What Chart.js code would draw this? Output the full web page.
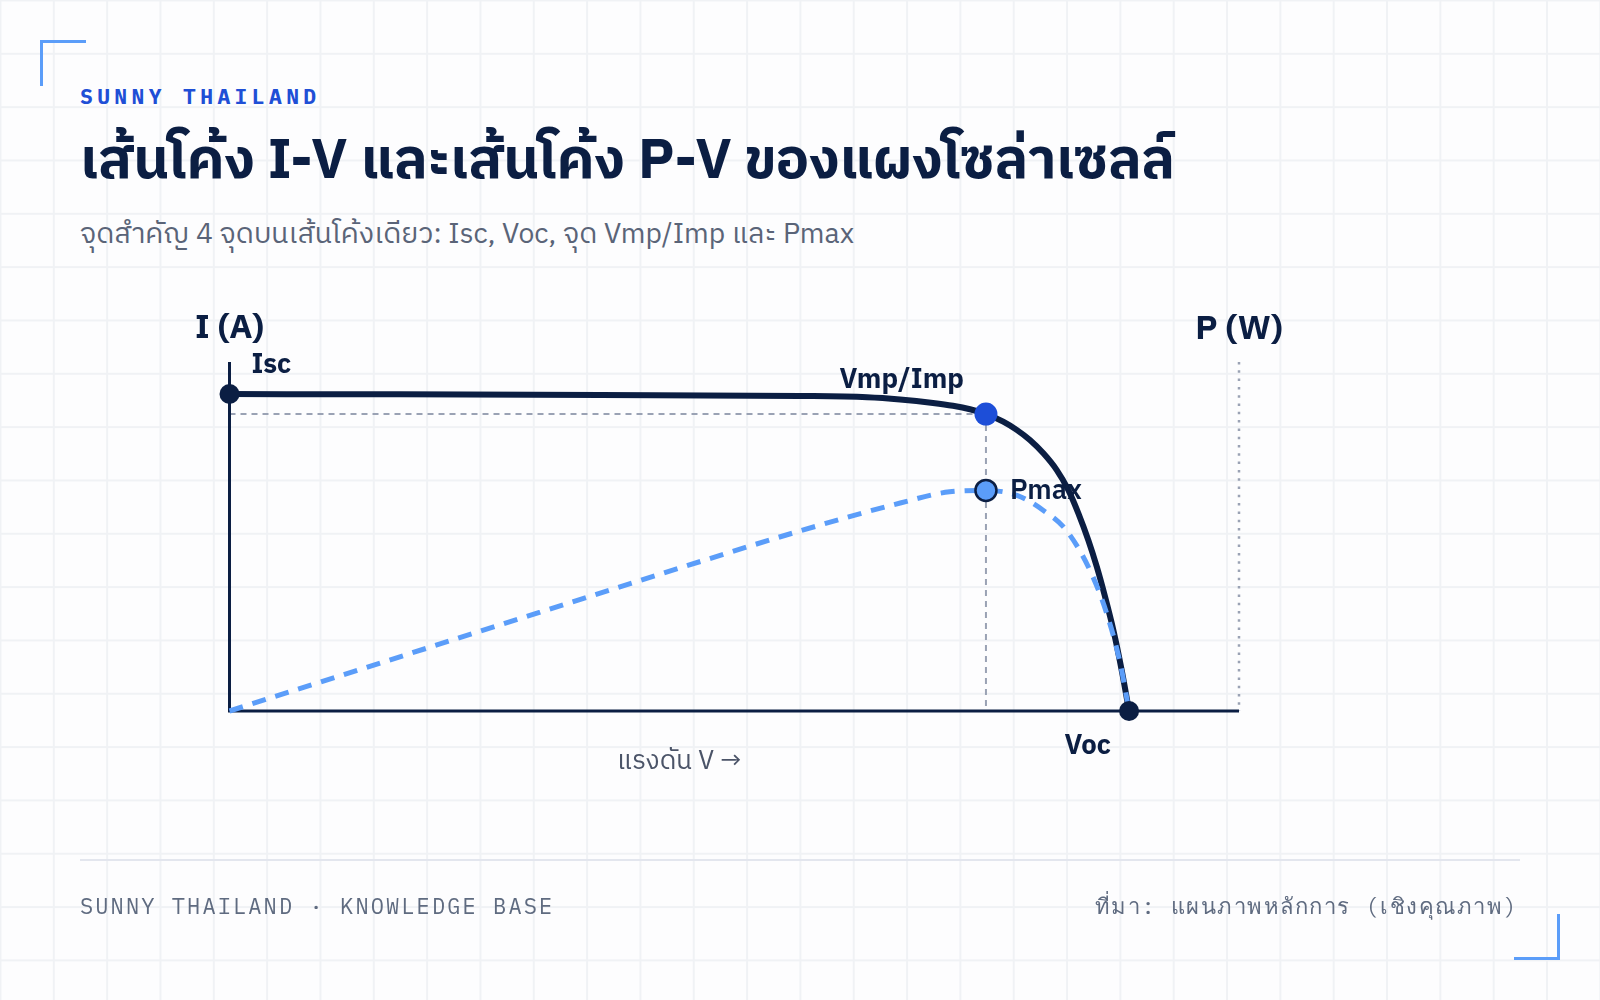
<!DOCTYPE html>
<html lang="th">
<head>
<meta charset="utf-8">
<title>I-V / P-V curve</title>
<script src="https://cdn.jsdelivr.net/npm/chart.js@4.4.1/dist/chart.umd.min.js"></script>
<style>
html,body{margin:0;padding:0;}
body{
  width:1600px;height:1000px;position:relative;overflow:hidden;
  background-color:#fdfdfe;
  background-image:
    linear-gradient(to right,#f0f2f5 1.5px,transparent 1.5px),
    linear-gradient(to bottom,#f0f2f5 1.5px,transparent 1.5px);
  background-size:53.333px 53.333px;
  background-position:-0.5px -0.5px;
}
#c{position:absolute;left:0;top:0;}
.t{position:absolute;white-space:nowrap;line-height:1;}
.thai{font-family:"IBM Plex Sans Thai","Noto Sans Thai","Noto Sans Thai UI","Noto Sans",sans-serif;}
.mono{font-family:"IBM Plex Mono","DejaVu Sans Mono","Liberation Mono",monospace;}
#kicker{left:80px;top:86px;font-size:21.3px;font-weight:700;color:#1f4fd6;letter-spacing:4.4px;}
#title{left:80px;top:135px;font-size:55.6px;font-weight:700;color:#0b1e43;}
#subtitle{left:80px;top:221px;font-size:28.3px;color:#5a6478;}
#rule{position:absolute;left:80px;top:859px;width:1440px;height:2px;background:#e3e6ee;}
#footL{left:80px;top:895px;font-size:22px;color:#5f6b80;letter-spacing:2.1px;}
#footR{right:82px;top:895px;font-size:22px;color:#5f6b80;letter-spacing:1.5px;}
.corner{position:absolute;width:43px;height:43px;}
#cTL{left:40px;top:40px;border-left:3px solid #5b9df9;border-top:3px solid #5b9df9;}
#cBR{left:1514px;top:914px;border-right:3px solid #5b9df9;border-bottom:3px solid #5b9df9;}
.lbl{font-weight:700;color:#0b1e43;font-size:27.5px;}
.axl{font-weight:700;color:#0b1e43;font-size:34px;}
#xlab{font-size:26px;color:#4b5468;}
</style>
</head>
<body>
<div class="corner" id="cTL"></div>
<div class="corner" id="cBR"></div>
<div class="t mono" id="kicker">SUNNY THAILAND</div>
<div class="t thai" id="title">เส้นโค้ง I-V และเส้นโค้ง P-V ของแผงโซล่าเซลล์</div>
<div class="t thai" id="subtitle">จุดสำคัญ 4 จุดบนเส้นโค้งเดียว: Isc, Voc, จุด Vmp/Imp และ Pmax</div>
<canvas id="c" width="1600" height="1000"></canvas>
<div class="t thai axl" id="labI">I (A)</div>
<div class="t thai axl" id="labP">P (W)</div>
<div class="t thai lbl" id="labIsc">Isc</div>
<div class="t thai lbl" id="labVmp">Vmp/Imp</div>
<div class="t thai lbl" id="labPmax" style="font-weight:600">Pmax</div>
<div class="t thai lbl" id="labVoc">Voc</div>
<div class="t thai" id="xlab">แรงดัน V →</div>
<div id="rule"></div>
<div class="t mono" id="footL">SUNNY THAILAND · KNOWLEDGE BASE</div>
<div class="t mono" id="footR">ที่มา: แผนภาพหลักการ (เชิงคุณภาพ)</div>

<script>
// ---- data (qualitative diagram) ----
const ivVoltage = [0, 7.6, 16.52, 25.43, 28.42, 29.89, 31.36, 32.25, 33.01, 33.72, 34.49, 35.09, 35.68, 36.28, 36.87, 37.39, 37.84, 38.28, 38.66, 39.03, 39.40, 39.77, 40.1];
const ivCurrent = [9.99, 9.98, 9.96, 9.93, 9.89, 9.82, 9.71, 9.62, 9.51, 9.36, 9.12, 8.86, 8.54, 8.12, 7.60, 6.97, 6.23, 5.39, 4.55, 3.60, 2.55, 1.29, 0];
const pvVoltage = [0, 10.95, 21.87, 25.43, 29.9, 32.1, 33.72, 35.1, 36.25, 37.3, 38.35, 39.1, 39.7, 40.1];
const pvPower   = [0, 112, 223, 258, 298, 314, 316, 309, 288, 259, 202, 140, 69, 0];

const Isc = 9.99;     // A
const Voc = 40.1;     // V
const Vmp = 33.72;    // V
const Imp = 9.36;     // A
const Pmax = 316;     // W

const vAxisMax = 45;
const iAxisMax = 11;
const pAxisMax = 500;

// ---- styles ----
const NAVY = '#0b1e43';
const BLUE = '#1d4ed8';
const LIGHT = '#5b9df9';
const GREY = '#9aa2b4';

const toXY = (xs, ys) => xs.map((x, k) => ({x: x, y: ys[k]}));

const guidePlugin = {
  id: 'guides',
  beforeDatasetsDraw(chart) {
    const {ctx, chartArea: a, scales} = chart;
    const x0 = scales.x.getPixelForValue(0);
    const y0 = scales.y.getPixelForValue(0);
    const xm = scales.x.getPixelForValue(Vmp);
    const ym = scales.y.getPixelForValue(Imp);
    ctx.save();
    ctx.strokeStyle = GREY; ctx.lineWidth = 2; ctx.setLineDash([6, 5]);
    ctx.beginPath(); ctx.moveTo(x0, ym); ctx.lineTo(xm, ym); ctx.stroke();
    ctx.beginPath(); ctx.moveTo(xm, ym); ctx.lineTo(xm, y0); ctx.stroke();
    ctx.lineWidth = 2.5; ctx.setLineDash([2.5, 5.8]);
    ctx.beginPath(); ctx.moveTo(a.right, a.top); ctx.lineTo(a.right, y0); ctx.stroke();
    ctx.setLineDash([]);
    ctx.strokeStyle = NAVY; ctx.lineWidth = 3;
    ctx.beginPath(); ctx.moveTo(x0, a.top); ctx.lineTo(x0, y0); ctx.lineTo(a.right, y0); ctx.stroke();
    ctx.restore();
  },
  afterRender(chart) {
    const {chartArea: a, scales} = chart;
    const px = v => scales.x.getPixelForValue(v);
    const py = v => scales.y.getPixelForValue(v);
    const pp = v => scales.yP.getPixelForValue(v);
    const place = (id, x, baseline, size, align) => {
      const el = document.getElementById(id);
      el.style.left = x + 'px';
      el.style.top = (baseline - size * 0.86) + 'px';
      el.style.transform = align === 'center' ? 'translateX(-50%)' : align === 'right' ? 'translateX(-100%)' : 'none';
    };
    place('labI', px(0), a.top - 22, 34, 'center');
    place('labP', a.right, a.top - 21, 34, 'center');
    place('labIsc', px(0) + 22, py(Isc) - 18, 27.5, 'left');
    place('labVmp', px(Vmp) - 22, py(Imp) - 23, 27.5, 'right');
    place('labPmax', px(Vmp) + 24, pp(Pmax) + 11, 27.5, 'left');
    place('labVoc', px(Voc) - 18, py(0) + 46, 27.5, 'right');
    place('xlab', (px(0) + px(Voc)) / 2, py(0) + 60, 26, 'center');
  }
};

new Chart(document.getElementById('c'), {
  type: 'line',
  data: {
    datasets: [
      { label: 'Isc', data: [{x: 0, y: Isc}], yAxisID: 'y', showLine: false, clip: false, order: 0,
        pointRadius: 10, pointBackgroundColor: NAVY, pointBorderWidth: 0 },
      { label: 'Voc', data: [{x: Voc, y: 0}], yAxisID: 'y', showLine: false, clip: false, order: 0,
        pointRadius: 10, pointBackgroundColor: NAVY, pointBorderWidth: 0 },
      { label: 'Vmp/Imp', data: [{x: Vmp, y: Imp}], yAxisID: 'y', showLine: false, clip: false, order: 0,
        pointRadius: 11.5, pointBackgroundColor: BLUE, pointBorderWidth: 0 },
      { label: 'Pmax', data: [{x: Vmp, y: Pmax}], yAxisID: 'yP', showLine: false, clip: false, order: 0,
        pointRadius: 10.5, pointBackgroundColor: LIGHT, pointBorderColor: NAVY, pointBorderWidth: 2.5 },
      { label: 'P-V', data: toXY(pvVoltage, pvPower), yAxisID: 'yP', order: 1, clip: false,
        borderColor: LIGHT, borderWidth: 5, borderDash: [14, 10], pointRadius: 0,
        cubicInterpolationMode: 'monotone', fill: false },
      { label: 'I-V', data: toXY(ivVoltage, ivCurrent), yAxisID: 'y', order: 2, clip: false,
        borderColor: NAVY, borderWidth: 6, pointRadius: 0, borderCapStyle: 'round', borderJoinStyle: 'round',
        cubicInterpolationMode: 'monotone', fill: false }
    ]
  },
  options: {
    responsive: false,
    animation: false,
    devicePixelRatio: 1,
    events: [],
    layout: { padding: { left: 229.5, right: 361, top: 362, bottom: 289 } },
    plugins: { legend: { display: false }, tooltip: { enabled: false } },
    scales: {
      x: { type: 'linear', min: 0, max: vAxisMax, display: false },
      y: { type: 'linear', min: 0, max: iAxisMax, display: false },
      yP: { type: 'linear', min: 0, max: pAxisMax, display: false, position: 'right' }
    }
  },
  plugins: [guidePlugin]
});
</script>
</body>
</html>
